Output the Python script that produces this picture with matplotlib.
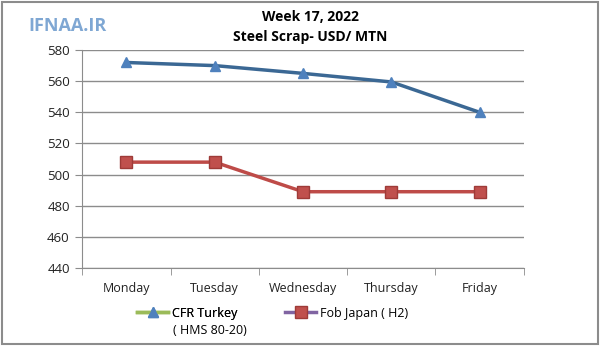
import matplotlib
matplotlib.use("Agg")
import matplotlib.pyplot as plt
from matplotlib.lines import Line2D
from matplotlib.patches import Rectangle

# data
days = ["Monday", "Tuesday", "Wednesday", "Thursday", "Friday"]
cfr_turkey = [572, 570, 565, 559.5, 540]
fob_japan = [508, 508, 489, 489, 489]
y_ticks = [440, 460, 480, 500, 520, 540, 560, 580]

plt.rcParams["font.family"] = ["Open Sans", "DejaVu Sans"]

fig = plt.figure(figsize=(6, 3.46), dpi=100)
ax = fig.add_axes([0.137, 0.2254, 0.736, 0.63])

x = list(range(len(days)))
ax.plot(x, cfr_turkey, color="#3B6894", lw=2.5, marker="^", ms=7,
        mfc="#4F81BD", mec="#4F81BD", zorder=3)
ax.plot(x, fob_japan, color="#BE4B48", lw=2.5, marker="s", ms=8,
        mfc="#C0504D", mec="#9E3B38", zorder=3)

ax.set_xlim(-0.5, len(days) - 0.5)
ax.set_ylim(440, 580)
ax.set_yticks(y_ticks)
ax.set_xticks(x)
ax.set_xticklabels(days)
ax.set_xticks([i + 0.5 for i in range(-1, len(days))], minor=True)
ax.yaxis.grid(True, color="#8C8C8C", lw=1)
ax.set_axisbelow(True)

for side in ["top", "right"]:
    ax.spines[side].set_visible(False)
for side in ["left", "bottom"]:
    ax.spines[side].set_color("#8C8C8C")
ax.tick_params(axis="x", which="major", length=0, pad=10, labelsize=9, colors="#222222")
ax.tick_params(axis="x", which="minor", length=5, color="#8C8C8C")
ax.tick_params(axis="y", length=5, color="#8C8C8C", labelsize=9.5, colors="#222222", pad=4)

fig.text(0.517, 0.95, "Week 17, 2022", ha="center", va="center",
         fontsize=10, fontweight="bold")
fig.text(0.517, 0.893, "Steel Scrap- USD/ MTN", ha="center", va="center",
         fontsize=10, fontweight="bold")
fig.text(0.113, 0.925, "IFNAA.IR", ha="center", va="center", fontsize=13,
         color="#7FA7D3", fontweight="bold")

# legend: two separate entries, first label wraps onto a second line
h1 = Line2D([], [], color="#9BBB59", lw=2.5, marker="^", ms=7,
            mfc="#4F81BD", mec="#4F81BD")
h2 = Line2D([], [], color="#8064A2", lw=2.5, marker="s", ms=8,
            mfc="#C0504D", mec="#9E3B38")
leg1 = fig.legend([h1], ["CFR Turkey"], loc="center left",
                  bbox_to_anchor=(137 / 600, 1 - 313 / 346), frameon=False,
                  fontsize=9, handlelength=2.5, handletextpad=0.3,
                  borderpad=0, borderaxespad=0)
fig.legend([h2], ["Fob Japan ( H2)"], loc="center left",
           bbox_to_anchor=(285 / 600, 1 - 313 / 346), frameon=False,
           fontsize=9, handlelength=2.5, handletextpad=0.3,
           borderpad=0, borderaxespad=0)
fig.add_artist(leg1)
fig.text(173 / 600, 1 - 331 / 346, "( HMS 80-20)", ha="left", va="center", fontsize=9)

fig.patches.append(Rectangle((0.004, 0.006), 0.992, 0.988, transform=fig.transFigure,
                             fill=False, edgecolor="#8C8C8C", lw=1.5))

fig.savefig("out.png", dpi=100)
